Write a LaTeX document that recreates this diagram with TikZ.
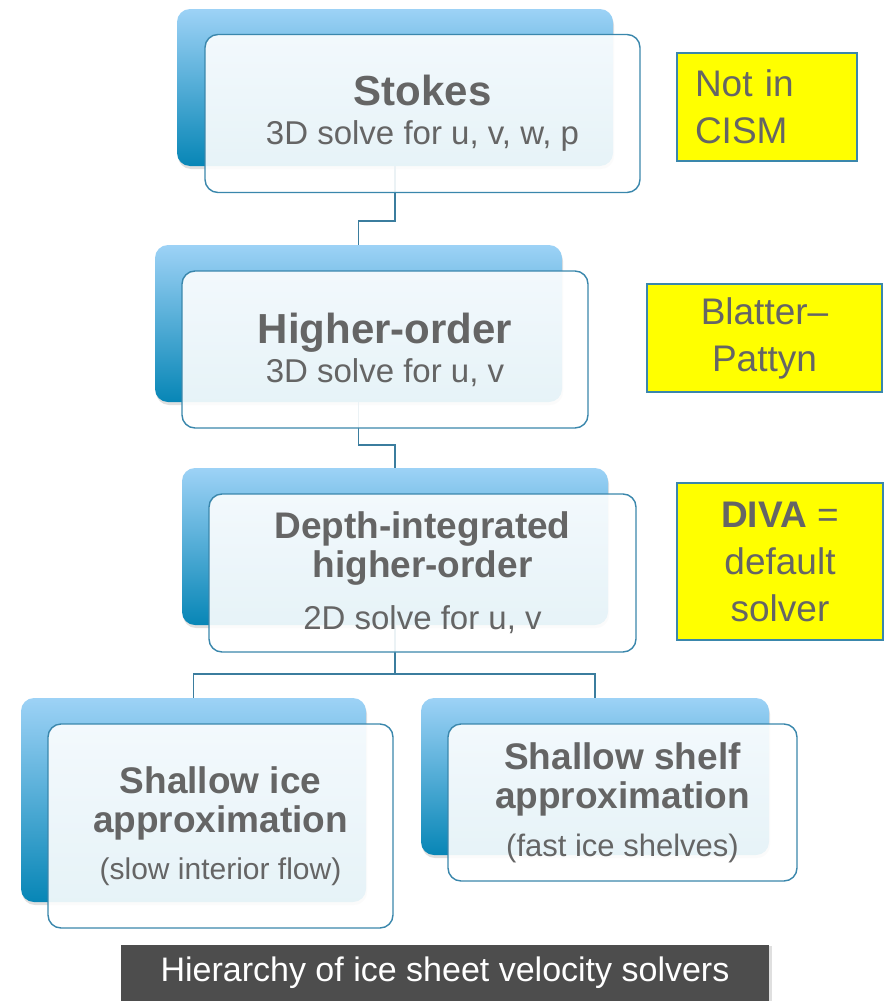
\documentclass[tikz,border=0pt]{standalone}
\usepackage{fontspec}
\setmainfont{Liberation Sans}
\usetikzlibrary{positioning,shadows}
\definecolor{ink}{HTML}{656565}
\definecolor{rim}{HTML}{3A87AC}
\definecolor{wire}{HTML}{3B7D9E}
\definecolor{skytop}{HTML}{9DD2F6}
\definecolor{skybot}{HTML}{0786B6}
\definecolor{notefill}{HTML}{FFFF00}
\definecolor{slate}{HTML}{4D4D4D}
\tikzset{
  backcard/.style={rounded corners=13pt, top color=skytop, bottom color=skybot, draw=none,
                   inner sep=0pt, drop shadow={shadow xshift=1pt,shadow yshift=-3pt,opacity=.25}},
  frontcard/.style={rounded corners=13pt, draw=rim, line width=1.4pt, fill=white, fill opacity=.9,
                    text opacity=1, text=ink, align=center, inner sep=0pt,
                    font=\fontsize{33}{39}\selectfont},
  link/.style={draw=wire, line width=1.8pt},
  notebox/.style={draw=rim, fill=notefill, line width=1.2pt, text=ink, inner sep=0pt,
                  font=\fontsize{37}{47}\selectfont},
  caption/.style={fill=slate, text=white, inner sep=0pt, font=\fontsize{34}{40}\selectfont,
                  drop shadow={shadow xshift=3pt,shadow yshift=-1pt,opacity=.25}}
}

\begin{document}
\begin{tikzpicture}[x=1pt,y=-1pt]
  \useasboundingbox (0,0) rectangle (886,1001);
  % back cards
  \node[backcard,minimum width=436pt,minimum height=157pt] (stokes) at (395,87.5) {};
  \node[backcard,minimum width=407pt,minimum height=157pt] (higher) at (358.5,323.5) {};
  \node[backcard,minimum width=426pt,minimum height=157pt] (depth) at (395,546.5) {};
  \node[backcard,minimum width=345pt,minimum height=204pt] (ice) at (193.5,800) {};
  \node[backcard,minimum width=348pt,minimum height=157pt] (shelf) at (595,776.5) {};
  % connectors
  \draw[link] (stokes.south) -- ++(0,55) -| (higher.north);
  \draw[link] (higher.south) -- ++(0,43) -| (depth.north);
  \draw[link] (depth.south) -- ++(0,49) coordinate (fork);
  \draw[link] (fork) -| (ice.north);
  \draw[link] (fork) -| (shelf.north);
  % front cards
  \node[frontcard,minimum width=435pt,minimum height=158pt] (stokesF) at (422.5,113.5)
    {{\bfseries\fontsize{42}{39}\selectfont Stokes}\\3D solve for u, v, w, p};
  \node[frontcard,minimum width=406pt,minimum height=157pt] (higherF) at (385,349.5)
    {{\bfseries\fontsize{42}{39}\selectfont Higher-order}\\3D solve for u, v};
  \node[frontcard,minimum width=427pt,minimum height=158pt] (depthF) at (422.5,573)
    {{\bfseries\fontsize{37}{39}\selectfont Depth-integrated}\\
     {\bfseries\fontsize{37}{39}\selectfont higher-order}\\[13pt]2D solve for u, v};
  \node[frontcard,minimum width=345pt,minimum height=204pt] (iceF) at (220.5,826)
    {{\bfseries\fontsize{37}{39}\selectfont Shallow ice}\\
     {\bfseries\fontsize{37}{39}\selectfont approximation}\\[8pt]
     {\fontsize{30}{39}\selectfont (slow interior flow)}};
  \node[frontcard,minimum width=349pt,minimum height=157pt] (shelfF) at (622.5,802.5)
    {{\bfseries\fontsize{37}{39}\selectfont Shallow shelf}\\
     {\bfseries\fontsize{37}{39}\selectfont approximation}\\[9pt]
     {\fontsize{31}{39}\selectfont (fast ice shelves)}};
  % notes
  \node[notebox,minimum width=180pt,minimum height=108pt,text width=144pt,align=left] (cism)
    at (767,107) {Not in\\CISM};
  \node[notebox,minimum width=235pt,minimum height=108pt,align=center] (pattyn)
    at (764.5,338) {Blatter\textendash\\Pattyn};
  \node[notebox,line width=2.6pt,minimum width=206pt,minimum height=157pt,align=center] (diva)
    at (780,561.5) {\textbf{DIVA} =\\default\\solver};
  % caption
  \node[caption,minimum width=648pt,minimum height=56pt] (title) at (445,973)
    {Hierarchy of ice sheet velocity solvers};
\end{tikzpicture}
\end{document}
